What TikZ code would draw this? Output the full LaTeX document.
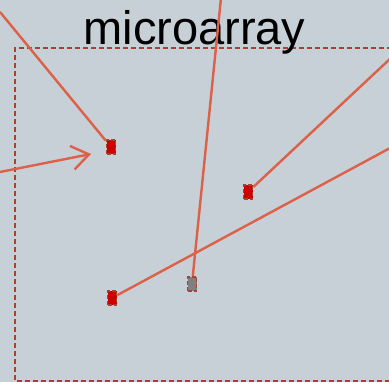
\documentclass[tikz,border=0pt]{standalone}
\usepackage{fontspec}
\setmainfont{Liberation Sans}
\usetikzlibrary{arrows.meta}
\definecolor{bg}{HTML}{C6D0D6}
\definecolor{frame}{HTML}{A5432F}
\definecolor{link}{HTML}{DC6148}
\definecolor{spotred}{HTML}{CC0000}
\definecolor{spotgray}{HTML}{808080}
\tikzset{
  spot/.style={draw=frame, dash pattern=on 4pt off 2pt, line width=1.6pt, minimum width=9pt, minimum height=14pt, inner sep=0pt},
  redspot/.style={spot, fill=spotred},
  grayspot/.style={spot, fill=spotgray},
  link/.style={draw=link, line width=2.4pt},
}
\begin{document}
\begin{tikzpicture}[x=1pt,y=-1pt]
\fill[bg] (0,0) rectangle (389,382);
\useasboundingbox (0,0) rectangle (389,382);
\draw[frame, line width=2.4pt, dash pattern=on 5pt off 3pt] (400,48) -- (15,48) -- (15,381) -- (400,381);
\node[anchor=base, font=\fontsize{47}{50}\selectfont, inner sep=0pt] (title) at (194.5,45) {microarray};
\node[redspot] (n1) at (111,147) {};
\node[redspot] (n2) at (248,192) {};
\node[redspot] (n3) at (112,298) {};
\node[grayspot] (ng) at (192,284) {};
\coordinate (s1) at (0,12);
\coordinate (s2) at (221,-2);
\coordinate (s3) at (392,57);
\coordinate (s4) at (392,147);
\coordinate (s5) at (0,172);
\coordinate (t5) at (91,154);
\draw[link] (s1) -- (n1);
\draw[link] (s2) -- (ng);
\draw[link] (s3) -- (n2);
\draw[link] (s4) -- (n3);
\draw[link, -{Straight Barb[length=17pt, width=24pt, line width=2.4pt]}] (s5) -- (t5);
\end{tikzpicture}
\end{document}
